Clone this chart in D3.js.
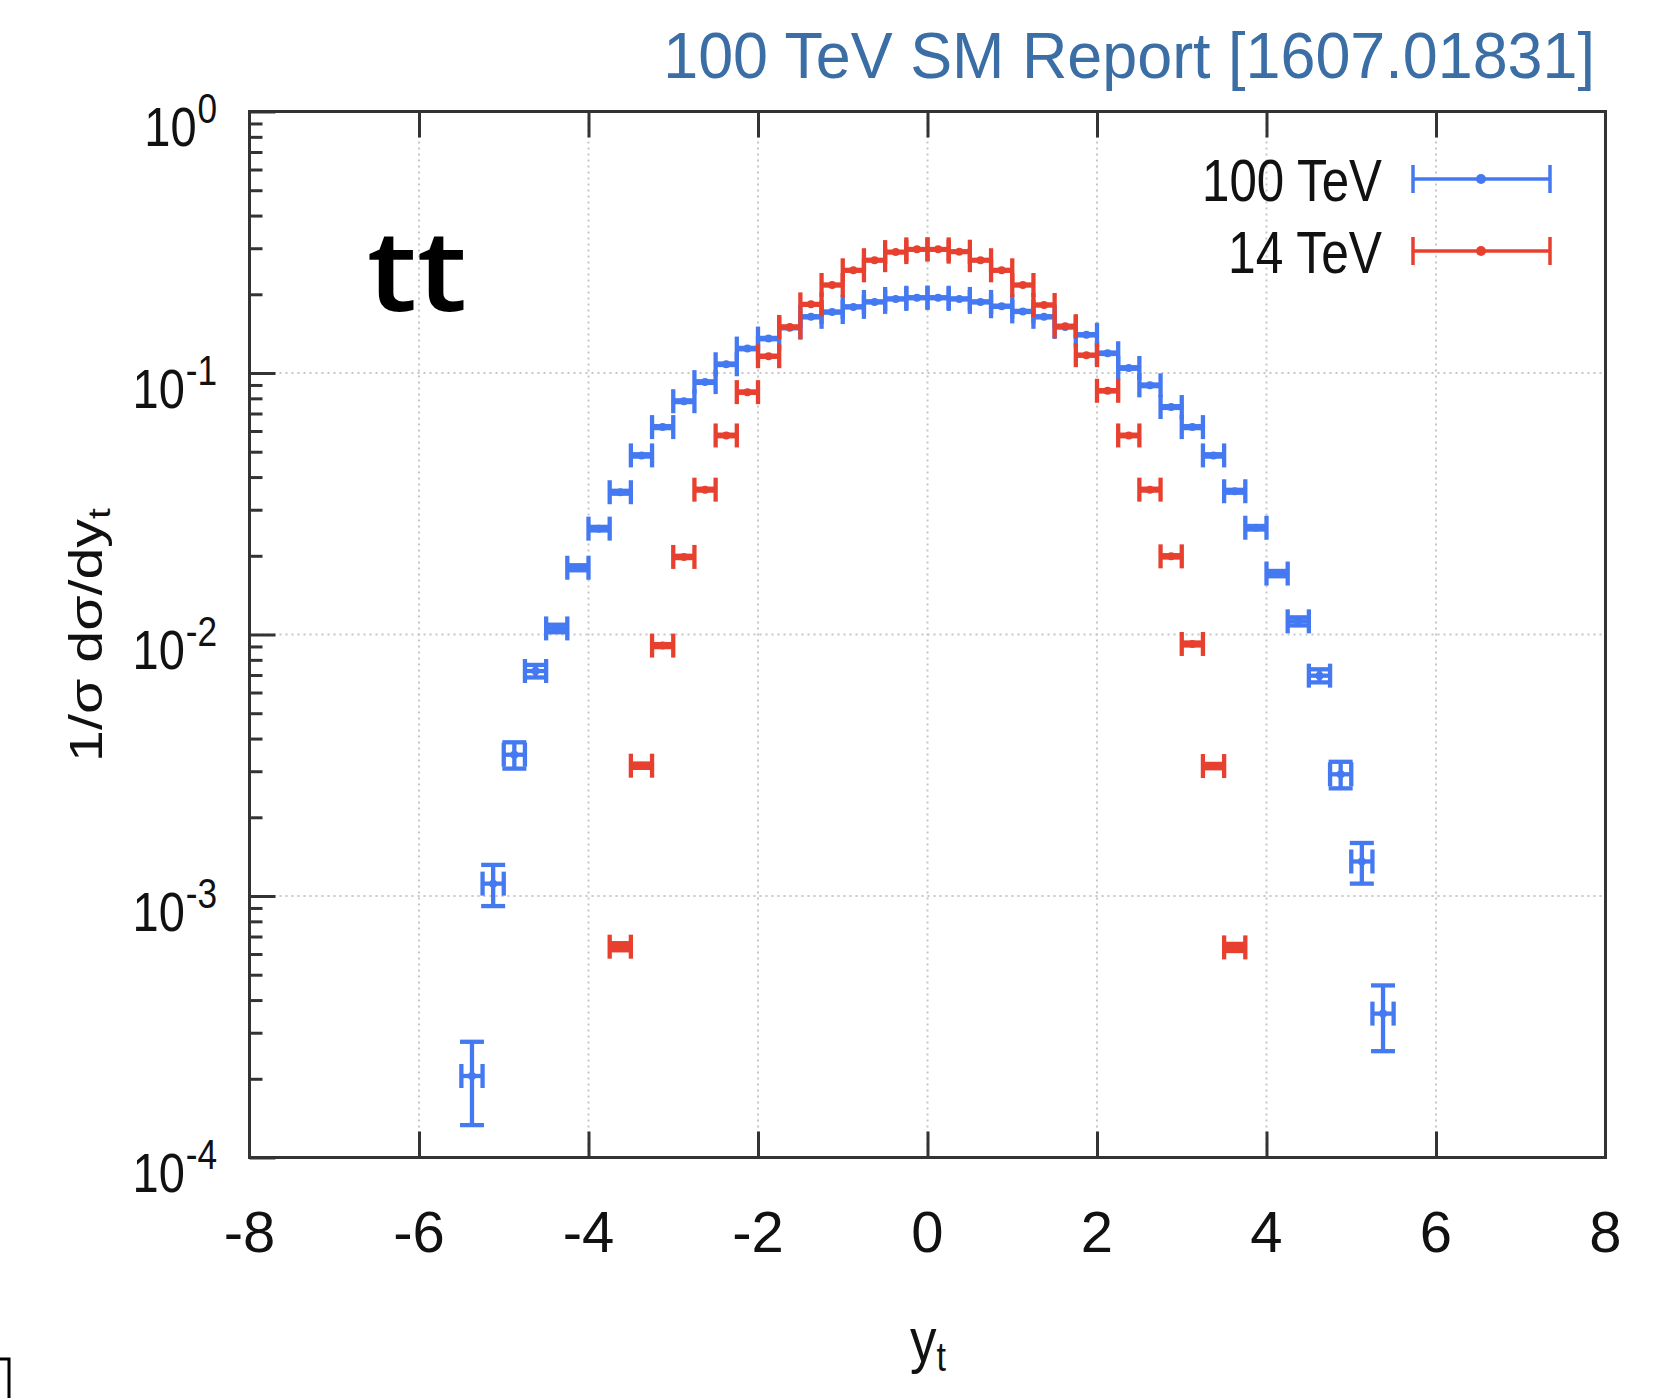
<!DOCTYPE html>
<html><head><meta charset="utf-8">
<script src="https://cdn.jsdelivr.net/npm/d3@7"></script>
<style>html,body{margin:0;padding:0;background:#fff;}svg{display:block;}</style>
</head><body>
<script>
// ---------------- data ----------------
const titleText = "100 TeV SM Report [1607.01831]";
const seriesNames = ["100 TeV", "14 TeV"];
const xTicks = [-8, -6, -4, -2, 0, 2, 4, 6, 8];
const xTickLabels = ["-8", "-6", "-4", "-2", "0", "2", "4", "6", "8"];
const yMajorTicks = [1, 1e-1, 1e-2, 1e-3, 1e-4];
const yTickExponents = ["0", "-1", "-2", "-3", "-4"];
const binHalfWidth = 0.125;

const bins100 = [-5.375, -5.125, -4.875, -4.625, -4.375, -4.125, -3.875, -3.625, -3.375, -3.125, -2.875,
  -2.625, -2.375, -2.125, -1.875, -1.625, -1.375, -1.125, -0.875, -0.625, -0.375, -0.125,
  0.125, 0.375, 0.625, 0.875, 1.125, 1.375, 1.625, 1.875, 2.125, 2.375, 2.625, 2.875,
  3.125, 3.375, 3.625, 3.875, 4.125, 4.375, 4.625, 4.875, 5.125, 5.375];
const values100 = [2.05e-4, 1.115e-3, 3.47e-3, 7.25e-3, 1.055e-2, 1.80e-2, 2.54e-2, 3.50e-2, 4.84e-2, 6.21e-2, 7.80e-2,
  9.23e-2, 0.108, 0.124, 0.1354, 0.149, 0.164, 0.171, 0.179, 0.187, 0.192, 0.194,
  0.194, 0.192, 0.187, 0.180, 0.172, 0.164, 0.150, 0.140, 0.119, 0.1045, 0.0897, 0.0741,
  0.0621, 0.0484, 0.0353, 0.0256, 0.0171, 0.01123, 0.00696, 0.00292, 1.355e-3, 3.55e-4];
const errors100 = [7.2e-5, 2.0e-4, 4.0e-4, 4.0e-4, 3.5e-4, 4.0e-4, 4.0e-4, 4.5e-4, 5.0e-4, 5.5e-4, 6.0e-4,
  6.5e-4, 7.0e-4, 7.5e-4, 8.0e-4, 8.0e-4, 8.5e-4, 8.5e-4, 9.0e-4, 9.0e-4, 9.0e-4, 9.0e-4,
  9.0e-4, 9.0e-4, 9.0e-4, 9.0e-4, 8.5e-4, 8.5e-4, 8.0e-4, 8.0e-4, 7.5e-4, 7.0e-4, 6.5e-4, 6.0e-4,
  5.5e-4, 5.0e-4, 4.5e-4, 4.0e-4, 4.0e-4, 4.0e-4, 4.0e-4, 3.4e-4, 2.4e-4, 1.0e-4];

const bins14 = [-3.625, -3.375, -3.125, -2.875, -2.625, -2.375, -2.125, -1.875, -1.625, -1.375, -1.125,
  -0.875, -0.625, -0.375, -0.125, 0.125, 0.375, 0.625, 0.875, 1.125, 1.375, 1.625, 1.875,
  2.125, 2.375, 2.625, 2.875, 3.125, 3.375, 3.625];
const values14 = [6.4e-4, 3.15e-3, 9.07e-3, 1.98e-2, 3.58e-2, 5.77e-2, 8.45e-2, 0.1159, 0.150, 0.183, 0.217,
  0.247, 0.270, 0.290, 0.297, 0.297, 0.291, 0.270, 0.247, 0.217, 0.182, 0.151, 0.117,
  0.0855, 0.0577, 0.0358, 0.0199, 0.0092, 3.14e-3, 6.36e-4];
const errors14 = [2e-5, 6e-5, 1.2e-4, 2e-4, 3e-4, 4e-4, 5e-4, 6e-4, 7e-4, 8e-4, 9e-4,
  1e-3, 1e-3, 1e-3, 1e-3, 1e-3, 1e-3, 1e-3, 1e-3, 9e-4, 8e-4, 7e-4, 6e-4,
  5e-4, 4e-4, 3e-4, 2e-4, 1.2e-4, 6e-5, 2e-5];

// ---------------- layout ----------------
const W = 1665, H = 1398;
const L = 249.5, R = 1605.5, T = 111.5, B = 1157.5;
const BLUE = "#4479f2", RED = "#e8402f";
const FONT = "'Liberation Sans', Arial, Helvetica, sans-serif";

const svg = d3.select("body").append("svg").attr("width", W).attr("height", H)
  .style("font-family", FONT);

const x = d3.scaleLinear().domain([-8, 8]).range([L, R]);
const y = d3.scaleLog().domain([1e-4, 1]).range([B, T]);

// grid
const grid = svg.append("g").attr("stroke", "#c6c6c6").attr("stroke-width", 2).attr("stroke-dasharray", "2,4");
grid.selectAll("line.v").data(xTicks.filter(t => t > -8 && t < 8)).enter().append("line")
  .attr("x1", d => x(d)).attr("x2", d => x(d)).attr("y1", T).attr("y2", B);
grid.selectAll("line.h").data(yMajorTicks.filter(t => t < 1 && t > 1e-4)).enter().append("line")
  .attr("x1", L).attr("x2", R).attr("y1", d => y(d)).attr("y2", d => y(d));

// axes ticks (inward)
function styleAxis(g) { g.select(".domain").remove(); g.selectAll("line").attr("stroke", "#333").attr("stroke-width", 3); g.selectAll("text").remove(); }
svg.append("g").attr("transform", `translate(0,${B})`)
  .call(d3.axisBottom(x).tickValues(xTicks.slice(1, -1)).tickSize(-26).tickFormat("")).call(styleAxis);
svg.append("g").attr("transform", `translate(0,${T})`)
  .call(d3.axisTop(x).tickValues(xTicks.slice(1, -1)).tickSize(-26).tickFormat("")).call(styleAxis);
svg.append("g").attr("transform", `translate(${L},0)`)
  .call(d3.axisLeft(y).tickValues(yMajorTicks).tickSize(-26).tickFormat("")).call(styleAxis);
const minor = [];
yMajorTicks.slice(1).forEach(d => { for (let k = 2; k <= 9; k++) minor.push(d * k); });
svg.append("g").attr("transform", `translate(${L},0)`)
  .call(d3.axisLeft(y).tickValues(minor).tickSize(-13).tickFormat("")).call(styleAxis);

// frame
svg.append("rect").attr("x", L).attr("y", T).attr("width", R - L).attr("height", B - T)
  .attr("fill", "none").attr("stroke", "#333").attr("stroke-width", 3);

// helper: fit text width via horizontal scale
function placeFit(node, ax, by, target, rot) {
  const w = node.getBBox().width;
  const s = target ? target / w : 1;
  d3.select(node).attr("transform", `translate(${ax},${by})` + (rot ? ` rotate(${rot})` : "") + ` scale(${s},1)`);
}

// x tick labels
xTicks.forEach((t, i) => {
  svg.append("text").attr("x", x(t)).attr("y", 1252).attr("text-anchor", "middle")
    .attr("font-size", 58).attr("fill", "#111").text(xTickLabels[i]);
});

// y tick labels 10^n
yMajorTicks.forEach((t, i) => {
  const tx = svg.append("text").attr("text-anchor", "end").attr("fill", "#111");
  tx.append("tspan").attr("font-size", 56).text("10");
  tx.append("tspan").attr("font-size", 42).attr("dy", -23).attr("dx", 1).text(yTickExponents[i]);
  tx.attr("transform", `translate(217,${y(t) + 34.5}) scale(0.84,1)`);
});

// data
function drawSeries(bins, vals, errs, color) {
  const g = svg.append("g").attr("stroke", color).attr("stroke-width", 4.3).attr("fill", color);
  const cap = 12;
  const pts = g.selectAll("g").data(bins.map((b, i) => ({ b, v: vals[i], e: errs[i] }))).enter().append("g");
  pts.append("line").attr("x1", d => x(d.b - binHalfWidth)).attr("x2", d => x(d.b + binHalfWidth))
    .attr("y1", d => y(d.v)).attr("y2", d => y(d.v));
  pts.append("line").attr("x1", d => x(d.b - binHalfWidth)).attr("x2", d => x(d.b - binHalfWidth))
    .attr("y1", d => y(d.v) - cap).attr("y2", d => y(d.v) + cap);
  pts.append("line").attr("x1", d => x(d.b + binHalfWidth)).attr("x2", d => x(d.b + binHalfWidth))
    .attr("y1", d => y(d.v) - cap).attr("y2", d => y(d.v) + cap);
  pts.append("line").attr("x1", d => x(d.b)).attr("x2", d => x(d.b))
    .attr("y1", d => y(d.v + d.e)).attr("y2", d => y(d.v - d.e));
  pts.append("line").attr("x1", d => x(d.b) - cap).attr("x2", d => x(d.b) + cap)
    .attr("y1", d => y(d.v + d.e)).attr("y2", d => y(d.v + d.e));
  pts.append("line").attr("x1", d => x(d.b) - cap).attr("x2", d => x(d.b) + cap)
    .attr("y1", d => y(d.v - d.e)).attr("y2", d => y(d.v - d.e));
  pts.append("circle").attr("cx", d => x(d.b)).attr("cy", d => y(d.v)).attr("r", 4).attr("stroke", "none");
}
drawSeries(bins100, values100, errors100, BLUE);
drawSeries(bins14, values14, errors14, RED);

// legend
const legendY = [179, 251];
const legendW = [180, 154];
[BLUE, RED].forEach((c, i) => {
  const t = svg.append("text").attr("text-anchor", "end").attr("font-size", 60).attr("fill", "#111").text(seriesNames[i]);
  placeFit(t.node(), 1382, legendY[i] + 21.5, legendW[i]);
  const g = svg.append("g").attr("stroke", c).attr("stroke-width", 3.5);
  g.append("line").attr("x1", 1413).attr("x2", 1550).attr("y1", legendY[i]).attr("y2", legendY[i]);
  g.append("line").attr("x1", 1413).attr("x2", 1413).attr("y1", legendY[i] - 14).attr("y2", legendY[i] + 14);
  g.append("line").attr("x1", 1550).attr("x2", 1550).attr("y1", legendY[i] - 14).attr("y2", legendY[i] + 14);
  svg.append("circle").attr("cx", 1481).attr("cy", legendY[i]).attr("r", 5).attr("fill", c);
});

// title
const title = svg.append("text").attr("text-anchor", "end").attr("font-size", 64).attr("fill", "#3a6ea5").text(titleText);
placeFit(title.node(), 1595, 78, 932);

// "tt" label
const tt = svg.append("text").attr("font-family", "'Open Sans', sans-serif").attr("font-weight", 600)
  .attr("font-size", 112).attr("fill", "#000").text("tt");
placeFit(tt.node(), 367, 311, 100);

// x axis title
const xt = svg.append("text").attr("fill", "#111");
xt.append("tspan").attr("font-size", 62).text("y");
xt.append("tspan").attr("font-size", 40).attr("dy", 10).text("t");
placeFit(xt.node(), 910, 1361, 36);

// y axis title
const yt = svg.append("text").attr("fill", "#111").attr("text-anchor", "middle");
yt.append("tspan").attr("font-size", 47).text("1/σ dσ/dy");
yt.append("tspan").attr("font-size", 32).attr("dy", 8).text("t");
placeFit(yt.node(), 102, 635, 254, -90);

// bottom-left bracket mark
svg.append("path").attr("d", "M0,1359 H9 V1398").attr("fill", "none").attr("stroke", "#000").attr("stroke-width", 3);
</script>
</body></html>
